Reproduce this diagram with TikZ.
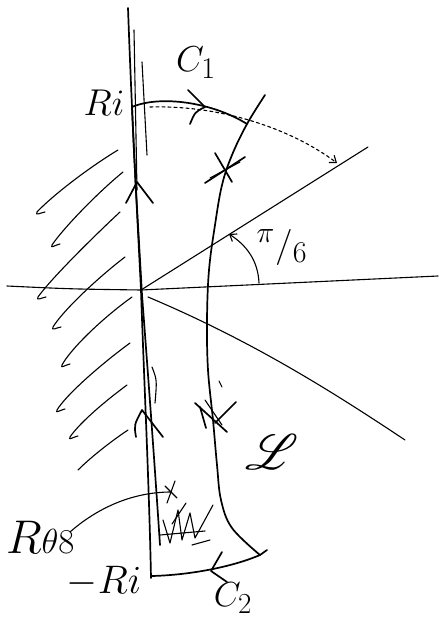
\documentclass[tikz,border=0pt]{standalone}
\usepackage{amsmath}
\usepackage{mathrsfs}
\usetikzlibrary{arrows.meta}
\tikzset{
  pen/.style={line width=1.7pt, line cap=round, line join=round},
  thinpen/.style={line width=1.1pt, line cap=round, line join=round},
  hand/.style={inner sep=0pt, outer sep=0pt, font=\Huge},
  barb/.style={-{Straight Barb[length=6pt,width=9pt]}},
}
\newcommand\hatchstroke[4]{\draw[thinpen] #1 .. controls #2 .. #3 .. controls +(-2,4) and +(-5,1) .. #4;}
\begin{document}
\begin{tikzpicture}[x=1pt,y=-1pt]
\useasboundingbox (0,0) rectangle (441,620);
% key points
\coordinate (O) at (141,290);
\coordinate (Ri) at (132,107);
\coordinate (C1e) at (247,124);
\coordinate (C2s) at (260,555);
\coordinate (Rb) at (152,576);
\coordinate (axT) at (128,8);
\coordinate (axB) at (151,578);
\coordinate (reL) at (7,286);
\coordinate (reR) at (438,276);
\coordinate (ray) at (368,147);
\coordinate (ray2s) at (148,297);
\coordinate (ray2e) at (405,440);
\coordinate (dashE) at (337,163);
\coordinate (xs) at (171,492);

% hatching
\hatchstroke{(118,150)}{(85,170) and (50,198)}{(37,212)}{(45,212)}
\hatchstroke{(123,172)}{(95,195) and (62,230)}{(52,245)}{(60,244)}
\hatchstroke{(120,212)}{(90,240) and (50,280)}{(38,297)}{(46,297)}
\hatchstroke{(125,257)}{(95,280) and (62,312)}{(53,327)}{(61,327)}
\hatchstroke{(132,297)}{(100,320) and (70,350)}{(62,365)}{(70,364)}
\hatchstroke{(130,343)}{(100,365) and (66,395)}{(57,410)}{(65,409)}
\hatchstroke{(127,385)}{(100,405) and (78,425)}{(70,437)}{(78,436)}
\draw[thinpen] (128,430) .. controls (110,442) and (90,458) .. (78,470);

% real axis and rays
\draw[thinpen] (reL) .. controls (70,289) .. (O) -- (reR);
\draw[thinpen] (O) -- (ray);
\draw[thinpen] (ray2s) .. controls (250,340) and (330,390) .. (ray2e);
\draw[thinpen, barb] (259,283) .. controls (258,260) and (246,245) .. (229,234);

% imaginary axis and left side of contour
\draw[pen] (axT) .. controls (132,120) and (138,230) .. (O) .. controls (144,380) and (149,480) .. (axB);
\draw[pen] (Ri) .. controls (135,180) and (139,240) .. (142,295) .. controls (150,400) and (155,470) .. (160,545);
\draw[thinpen] (134,30) -- (137,190);
\draw[thinpen] (142,62) -- (147,155);
\draw[thinpen] (152,367) .. controls (157,380) .. (155,403);
% up chevrons
\draw[pen] (126,203) -- (137,182) -- (153,203);
\draw[pen] (136,437) .. controls (134,425) .. (142,410) -- (163,437);

% C1
\draw[pen] (Ri) .. controls (160,95) and (212,102) .. (C1e);
\draw[pen] (188,90) -- (205,107) .. controls (195,112) .. (190,124);
\draw[thinpen, dashed, barb] (150,107) .. controls (220,105) and (290,128) .. (dashE);

% right side of contour
\draw[pen] plot[smooth, tension=0.6] coordinates {(265,95) (247,124) (232,155) (222,185) (215,225) (209,270) (207,320) (208,370) (213,420) (217,465) (221,500) (232,528) (C2s)};
\draw[pen] (C2s) -- (267,550);
% C2
\draw[pen] (C2s) .. controls (232,567) and (190,575) .. (Rb);
\draw[pen] (222,552) -- (211,571) -- (227,582);

% crosses
\draw[pen] (205,183) -- (245,157);
\draw[pen] (215,153) -- (232,182);
\draw[thinpen] (210,178) -- (240,162);
\draw[pen] (195,403) -- (227,432);
\draw[pen] (200,407) -- (206,428);
\draw[pen] (215,423) -- (236,402);
\draw[thinpen] (205,400) -- (222,425);
\draw[thinpen] (219,381) -- (222,387);
\draw[thinpen] (165,486) -- (177,498);
\draw[thinpen] (175,481) -- (167,503);

% scribble
\draw[thinpen] (163,520) -- (170,543) -- (178,510) -- (182,540) -- (190,513) -- (195,538) -- (213,505);
\draw[thinpen] (160,535) -- (205,531);
\draw[thinpen] (192,545) -- (210,540);
\draw[thinpen] (172,524) -- (186,503);

% pointer curve to small x
\draw[thinpen] (70,532) .. controls (95,510) and (130,492) .. (xs);

% labels
\node[hand] (lRi) at (104,103) {\scalebox{1.5}{$Ri$}};
\node[hand] (lmRi) at (104,582) {\scalebox{1.6}{$-Ri$}};
\node[hand] (lC1) at (196,63) {\scalebox{1.45}{$C_1$}};
\node[hand] (lC2) at (233,598) {\scalebox{1.4}{$C_2$}};
\node[hand] (lpi) at (282,247) {\scalebox{1.45}{$^{\pi}/_{6}$}};
\node[hand] (lL) at (272,452) {\scalebox{2}{$\mathscr{L}$}};
\node[hand, anchor=base west] (lR) at (6,553) {\scalebox{1.9}{$R$}\scalebox{1.4}{$\theta8$}};
\end{tikzpicture}
\end{document}
